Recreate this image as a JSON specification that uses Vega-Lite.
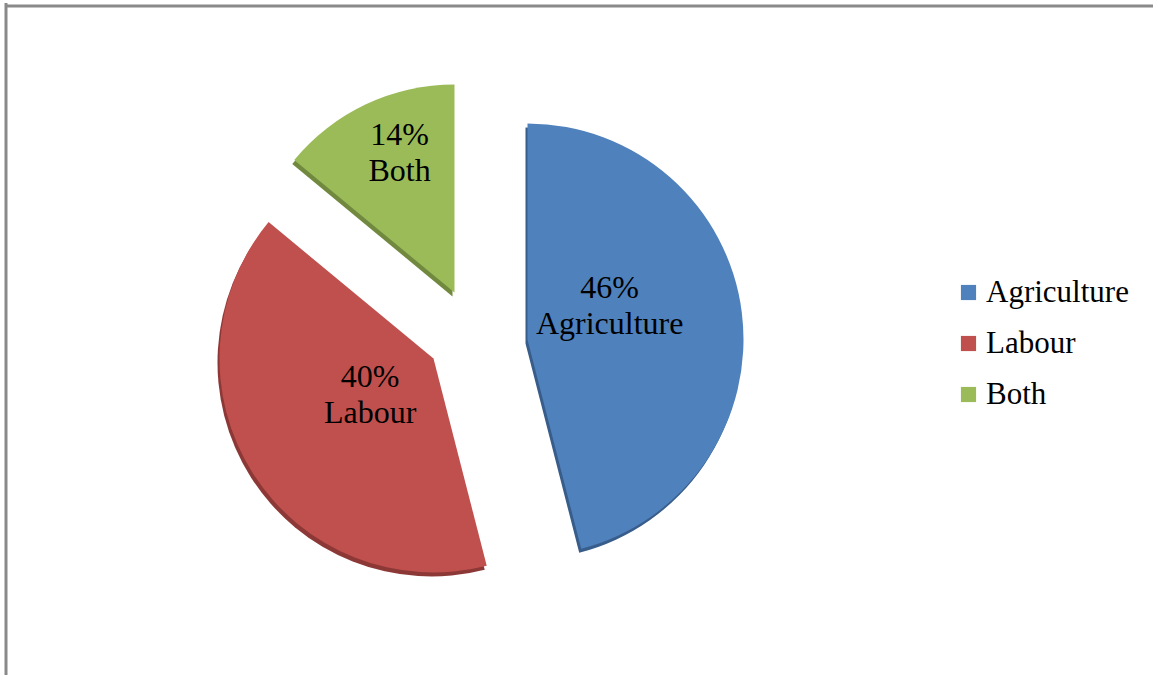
{
  "$schema": "https://vega.github.io/schema/vega-lite/v6.json",
  "width": 1147,
  "height": 669,
  "padding": {"left": 6, "top": 6, "right": 0, "bottom": 0},
  "autosize": {"type": "none"},
  "background": "white",
  "config": {
    "view": {"stroke": null},
    "font": "Liberation Serif"
  },
  "data": {
    "values": [
      {"category": "Agriculture", "value": 46, "order": 1},
      {"category": "Labour", "value": 40, "order": 2},
      {"category": "Both", "value": 14, "order": 3}
    ]
  },
  "transform": [
    {"window": [{"op": "sum", "field": "value", "as": "end"}], "sort": [{"field": "order"}], "frame": [null, 0]},
    {"calculate": "datum.end - datum.value", "as": "start"},
    {"calculate": "datum.end - datum.value / 2", "as": "mid"},
    {"calculate": "[datum.value + '%', datum.category]", "as": "label"}
  ],
  "layer": [
    {
      "data": {"values": [{"frame": "left"}]},
      "transform": [],
      "mark": {"type": "rule", "color": "#8a8a8a", "strokeWidth": 3},
      "encoding": {"x": {"value": 0}, "y": {"value": -3}, "y2": {"value": "height"}}
    },
    {
      "data": {"values": [{"frame": "top"}]},
      "transform": [],
      "mark": {"type": "rule", "color": "#8a8a8a", "strokeWidth": 3},
      "encoding": {"y": {"value": 0}, "x": {"value": -1}, "x2": {"value": "width"}}
    },
    {
      "transform": [{"filter": "datum.category === 'Agriculture'"}],
      "mark": {"type": "arc", "radius": 216, "xOffset": -54, "yOffset": 3, "color": "#385D8A"},
      "encoding": {
        "theta": {"field": "start", "type": "quantitative", "scale": {"domain": [0, 100]}},
        "theta2": {"field": "end"}
      }
    },
    {
      "transform": [{"filter": "datum.category === 'Labour'"}],
      "mark": {"type": "arc", "radius": 214, "xOffset": -148, "yOffset": 22, "color": "#8C3836"},
      "encoding": {
        "theta": {"field": "start", "type": "quantitative", "scale": {"domain": [0, 100]}},
        "theta2": {"field": "end"}
      }
    },
    {
      "transform": [{"filter": "datum.category === 'Both'"}],
      "mark": {"type": "arc", "radius": 208, "xOffset": -127, "yOffset": -44, "color": "#71893F"},
      "encoding": {
        "theta": {"field": "start", "type": "quantitative", "scale": {"domain": [0, 100]}},
        "theta2": {"field": "end"}
      }
    },
    {
      "transform": [{"filter": "datum.category === 'Agriculture'"}],
      "mark": {"type": "arc", "radius": 216, "xOffset": -52, "yOffset": -1},
      "encoding": {
        "theta": {"field": "start", "type": "quantitative", "scale": {"domain": [0, 100]}},
        "theta2": {"field": "end"},
        "color": {
          "field": "category", "type": "nominal",
          "scale": {"domain": ["Agriculture", "Labour", "Both"], "range": ["#4F81BD", "#C0504D", "#9BBB59"]},
          "legend": {
            "title": null, "orient": "none", "legendX": 947, "legendY": 271,
            "symbolType": "square", "symbolSize": 230, "symbolStrokeWidth": 0,
            "labelFontSize": 31, "labelFont": "Liberation Serif", "labelColor": "black",
            "labelOffset": 2, "rowPadding": 19, "labelLimit": 300
          }
        }
      }
    },
    {
      "transform": [{"filter": "datum.category === 'Labour'"}],
      "mark": {"type": "arc", "radius": 214, "xOffset": -146, "yOffset": 18},
      "encoding": {
        "theta": {"field": "start", "type": "quantitative", "scale": {"domain": [0, 100]}},
        "theta2": {"field": "end"},
        "color": {"field": "category", "type": "nominal"}
      }
    },
    {
      "transform": [{"filter": "datum.category === 'Both'"}],
      "mark": {"type": "arc", "radius": 208, "xOffset": -125, "yOffset": -48},
      "encoding": {
        "theta": {"field": "start", "type": "quantitative", "scale": {"domain": [0, 100]}},
        "theta2": {"field": "end"},
        "color": {"field": "category", "type": "nominal"}
      }
    },
    {
      "transform": [{"filter": "datum.category === 'Agriculture'"}],
      "mark": {"type": "text", "radius": 105, "xOffset": -74, "yOffset": -39, "fontSize": 32, "font": "Liberation Serif", "color": "black", "align": "center", "baseline": "middle", "lineHeight": 36},
      "encoding": {
        "theta": {"field": "mid", "type": "quantitative", "scale": {"domain": [0, 100]}},
        "text": {"field": "label"}
      }
    },
    {
      "transform": [{"filter": "datum.category === 'Labour'"}],
      "mark": {"type": "text", "radius": 75, "xOffset": -146, "yOffset": -4, "fontSize": 32, "font": "Liberation Serif", "color": "black", "align": "center", "baseline": "middle", "lineHeight": 36},
      "encoding": {
        "theta": {"field": "mid", "type": "quantitative", "scale": {"domain": [0, 100]}},
        "text": {"field": "label"}
      }
    },
    {
      "transform": [{"filter": "datum.category === 'Both'"}],
      "mark": {"type": "text", "radius": 150, "xOffset": -116, "yOffset": -70, "fontSize": 32, "font": "Liberation Serif", "color": "black", "align": "center", "baseline": "middle", "lineHeight": 36},
      "encoding": {
        "theta": {"field": "mid", "type": "quantitative", "scale": {"domain": [0, 100]}},
        "text": {"field": "label"}
      }
    }
  ]
}
